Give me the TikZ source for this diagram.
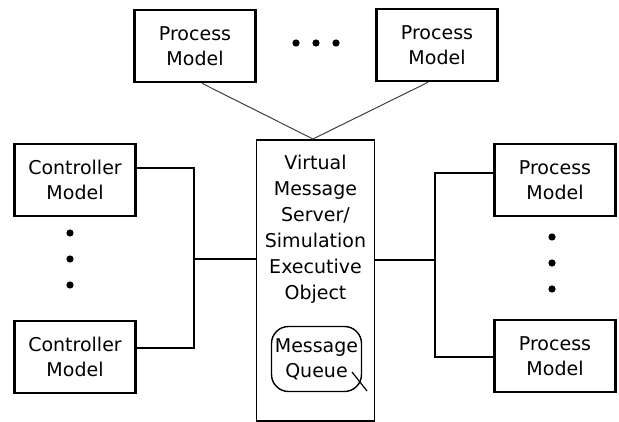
\documentclass[tikz,border=0pt]{standalone}
\usepackage{fontspec}
\setmainfont{DejaVu Sans}
\begin{document}
\begin{tikzpicture}[x=1pt,y=-1pt,
  model/.style={draw,line width=2.6pt,minimum width=121pt,minimum height=72pt,align=center,inner sep=0pt,font=\fontsize{19}{25.5}\selectfont},
  conn/.style={line width=1.4pt},
  diag/.style={line width=1pt,draw=black!75},
  dotc/.style={fill=black}]
\useasboundingbox (0,0) rectangle (619,422);
\node[model] (tp1) at (195,46) {Process\\Model};
\node[model] (tp2) at (437,45) {Process\\Model};
\node[model] (cm1) at (75,180) {Controller\\Model};
\node[model] (cm2) at (75,357) {Controller\\Model};
\node[model] (pm1) at (555,180) {Process\\Model};
\node[model] (pm2) at (555,356) {Process\\Model};
\node[draw,line width=1.8pt,minimum width=118pt,minimum height=281pt,inner sep=0pt] (srv) at (315.5,280.5) {};
\node[align=center,inner sep=0pt,font=\fontsize{19}{26}\selectfont] (srvtxt) at (315.5,229) {Virtual\\Message\\Server/\\Simulation\\Executive\\Object};
\node[draw,line width=1.4pt,rounded corners=17pt,minimum width=90pt,minimum height=65pt,align=center,inner sep=0pt,font=\fontsize{19}{25}\selectfont] (mq) at (316.5,359) {Message\\Queue};
\coordinate (s1) at (352,372);
\coordinate (s2) at (367,391);
\draw[line width=1.2pt] (s1) -- (s2);
% top dots
\foreach \x in {296,316,336} \fill[dotc] (\x,43) circle (3.6pt);
% left dots
\foreach \y in {233,259,285} \fill[dotc] (70,\y) circle (3.6pt);
% right dots
\foreach \y in {237,263,289} \fill[dotc] (552,\y) circle (3.6pt);
% top diagonals
\coordinate (tm) at (313,139);
\draw[diag] ([xshift=7pt]tp1.south) -- (tm);
\draw[diag] ([xshift=-9pt]tp2.south) -- (tm);
% left bus
\coordinate (lb) at (194,259);
\draw[conn] ([yshift=12pt]cm1.east) -| (lb) |- ([yshift=9pt]cm2.east);
\draw[conn] (lb) -- (lb -| srv.west);
% right bus
\coordinate (rb) at (435,260);
\draw[conn] ([yshift=7pt]pm1.west) -| (rb) |- ([yshift=-1pt]pm2.west);
\draw[conn] (rb) -- (rb -| srv.east);
\end{tikzpicture}
\end{document}
